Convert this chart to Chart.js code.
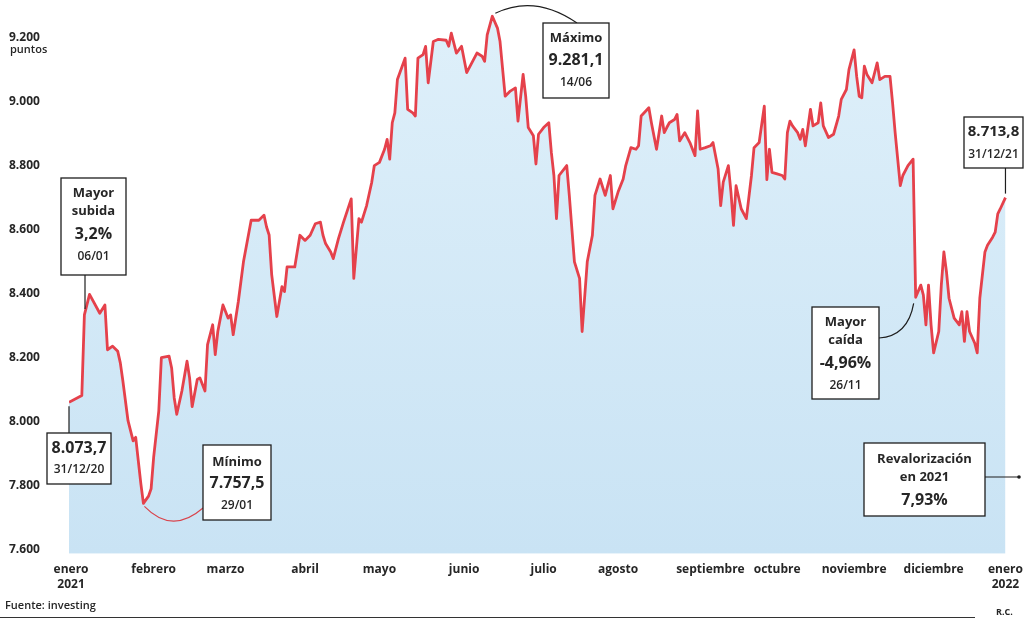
<!DOCTYPE html>
<html lang="es">
<head>
<meta charset="utf-8">
<title>Ibex 35 en 2021</title>
<script src="https://cdn.jsdelivr.net/npm/chart.js@4.4.1/dist/chart.umd.min.js"></script>
<style>
html, body { margin: 0; padding: 0; background: #fff; }
#wrap { position: relative; width: 1032px; height: 619px; }
</style>
</head>
<body>
<div id="wrap"><canvas id="grafico"></canvas></div>
<script>
// días contados desde el 31/12/2020 (día 0) y cierre en puntos
const dias = [
    0, 5, 6, 8, 12, 14, 15, 17, 19, 20, 21, 23, 25, 26, 27, 28, 29, 31, 32, 33,
    35, 36, 39, 40, 41, 42, 44, 46, 47, 48, 50, 51, 53, 54, 56, 57, 58, 60, 62, 63,
    64, 66, 68, 71, 74, 76, 77, 78, 79, 81, 83, 84, 85, 88, 90, 92, 94, 96, 98, 99,
    100, 102, 103, 105, 107, 110, 111, 113, 114, 116, 118, 119, 121, 123, 124, 125, 126, 127, 128, 131,
    132, 134, 135, 136, 138, 139, 140, 142, 144, 147, 148, 149, 151, 153, 155, 159, 161, 162, 163, 165,
    167, 168, 170, 172, 174, 175, 177, 178, 179, 181, 182, 183, 185, 187, 188, 189, 190, 191, 194, 195,
    197, 199, 200, 202, 204, 205, 207, 209, 211, 212, 214, 216, 217, 219, 221, 222, 223, 226, 227, 229,
    231, 232, 233, 234, 236, 237, 238, 240, 242, 244, 245, 246, 248, 250, 251, 253, 254, 255, 257, 258,
    259, 260, 262, 264, 266, 267, 269, 271, 272, 273, 274, 276, 278, 279, 280, 281, 282, 284, 285, 286,
    287, 289, 290, 292, 293, 294, 296, 298, 300, 301, 303, 304, 306, 307, 308, 309, 310, 311, 313, 315,
    316, 318, 320, 321, 322, 323, 324, 325, 327, 329, 330, 332, 333, 334, 335, 336, 337, 339, 340, 341,
    342, 343, 345, 347, 348, 349, 350, 351, 353, 354, 355, 357, 358, 360, 361, 362, 363, 365
];
const cierres = [
    8073.7, 8095, 8347, 8411, 8352, 8378, 8238, 8249, 8233, 8197, 8140, 8016, 7953, 7964, 7891, 7819, 7757.5, 7780, 7803, 7902,
    8047, 8213, 8218, 8181, 8088, 8036, 8109, 8202, 8150, 8060, 8145, 8150, 8109, 8254, 8316, 8223, 8295, 8378, 8337, 8347,
    8285, 8389, 8513, 8643, 8643, 8659, 8622, 8597, 8473, 8342, 8435, 8420, 8497, 8497, 8596, 8580, 8596, 8632, 8637, 8596,
    8570, 8544, 8523, 8585, 8637, 8710, 8461, 8648, 8637, 8689, 8762, 8814, 8824, 8865, 8896, 8834, 8948, 8979, 9083, 9150,
    8990, 8979, 8969, 9150, 9161, 9187, 9073, 9202, 9209, 9206, 9187, 9228, 9166, 9187, 9105, 9166, 9156, 9140, 9223, 9281.1,
    9244, 9202, 9031, 9047, 9057, 8953, 9099, 9031, 8933, 8907, 8819, 8912, 8933, 8948, 8855, 8783, 8648, 8783, 8814, 8721,
    8513, 8461, 8295, 8513, 8596, 8721, 8772, 8721, 8783, 8679, 8731, 8772, 8814, 8870, 8865, 8876, 8969, 8995, 8948, 8865,
    8969, 8917, 8933, 8948, 8958, 8974, 8891, 8917, 8886, 8845, 8985, 8865, 8870, 8876, 8886, 8803, 8689, 8762, 8814, 8731,
    8627, 8751, 8679, 8648, 8783, 8870, 8886, 9000, 8770, 8865, 8793, 8788, 8783, 8772, 8917, 8953, 8938, 8917, 8896, 8927,
    8876, 8990, 8938, 8948, 9010, 8938, 8902, 8912, 8969, 9021, 9052, 9114, 9176, 9093, 9031, 9026, 9125, 9099, 9073, 9135,
    9083, 9093, 9093, 9010, 8917, 8834, 8751, 8783, 8814, 8834, 8402, 8440, 8409, 8316, 8440, 8316, 8228, 8295, 8440, 8544,
    8482, 8399, 8337, 8316, 8357, 8264, 8357, 8295, 8259, 8228, 8399, 8544, 8565, 8590, 8606, 8663, 8679, 8713.8
];
const ticksY = [7600, 7800, 8000, 8200, 8400, 8600, 8800, 9000, 9200];
const posMeses = [0.8, 33, 61, 92, 121, 154, 185, 214, 250, 276, 306, 337, 365];
const meses = [['enero', '2021'], 'febrero', 'marzo', 'abril', 'mayo', 'junio', 'julio',
    'agosto', 'septiembre', 'octubre', 'noviembre', 'diciembre', ['enero', '2022']];

const FUENTE = "'Open Sans', 'Noto Sans', sans-serif";
const TINTA = '#262626';

function miles(v) {
    return String(v).replace(/\B(?=(\d{3})+(?!\d))/g, '.');
}

function caja(ctx, x, y, w, h, lineas) {
    ctx.save();
    ctx.fillStyle = '#fff';
    ctx.fillRect(x, y, w, h);
    ctx.strokeStyle = '#1e1e1e';
    ctx.lineWidth = 1.3;
    ctx.strokeRect(x, y, w, h);
    ctx.fillStyle = TINTA;
    ctx.textAlign = 'center';
    ctx.textBaseline = 'middle';
    lineas.forEach(l => {
        ctx.font = `${l[3] || 700} ${l[2]}px ${FUENTE}`;
        ctx.fillText(l[0], x + w / 2, l[1]);
    });
    ctx.restore();
}

// Cajas, conectores y textos sueltos
const anotaciones = {
    id: 'anotaciones',
    afterDraw(chart) {
        const ctx = chart.ctx;
        const sx = chart.scales.x, sy = chart.scales.y;
        const px = d => sx.getPixelForValue(d);
        const py = v => sy.getPixelForValue(v);

        ctx.save();
        ctx.font = `600 11px ${FUENTE}`;
        ctx.fillStyle = TINTA;
        ctx.textBaseline = 'middle';
        ctx.fillText('puntos', 10, 50);

        ctx.strokeStyle = '#1e1e1e';
        ctx.lineWidth = 1.2;
        // 31/12/20
        ctx.beginPath();
        ctx.moveTo(px(0), py(8073.7) + 4);
        ctx.lineTo(px(0), 433);
        ctx.stroke();
        // 06/01
        ctx.beginPath();
        ctx.moveTo(85, 275);
        ctx.lineTo(85, py(8347) - 6);
        ctx.stroke();
        // 31/12/21
        ctx.beginPath();
        ctx.moveTo(px(365), 168);
        ctx.lineTo(px(365), py(8713.8) - 4);
        ctx.stroke();
        // máximo
        ctx.beginPath();
        ctx.moveTo(px(165) + 3, py(9281.1) - 3);
        ctx.quadraticCurveTo(535, -6, 577, 23);
        ctx.stroke();
        // mayor caída
        ctx.beginPath();
        ctx.moveTo(879, 338);
        ctx.quadraticCurveTo(908, 336, px(330) - 2, py(8402) + 6);
        ctx.stroke();
        // revalorización
        ctx.beginPath();
        ctx.moveTo(985, 477);
        ctx.lineTo(1019, 477);
        ctx.stroke();
        ctx.beginPath();
        ctx.arc(1019, 477, 1.8, 0, Math.PI * 2);
        ctx.fillStyle = '#1e1e1e';
        ctx.fill();
        // mínimo
        ctx.strokeStyle = '#d9434b';
        ctx.lineWidth = 1.1;
        ctx.beginPath();
        ctx.moveTo(px(29) + 1, py(7757.5) + 3);
        ctx.quadraticCurveTo(172, 535, 203, 508);
        ctx.stroke();
        ctx.restore();

        caja(ctx, 61, 178, 65, 97, [['Mayor', 193, 13], ['subida', 211, 13], ['3,2%', 234, 16], ['06/01', 257, 12, 600]]);
        caja(ctx, 47, 433, 64, 51, [['8.073,7', 448, 16], ['31/12/20', 470, 12, 600]]);
        caja(ctx, 203, 445, 68, 75, [['Mínimo', 462, 13], ['7.757,5', 483, 16], ['29/01', 506, 12, 600]]);
        caja(ctx, 543, 23, 66, 75, [['Máximo', 38, 13], ['9.281,1', 60, 16], ['14/06', 83, 12, 600]]);
        caja(ctx, 964, 117, 59, 51, [['8.713,8', 132, 15], ['31/12/21', 155, 12, 600]]);
        caja(ctx, 812, 307, 67, 92, [['Mayor', 322, 13], ['caída', 340, 13], ['-4,96%', 363, 16], ['26/11', 386, 12, 600]]);
        caja(ctx, 864, 443, 121, 73, [['Revalorización', 459, 13], ['en 2021', 477, 13], ['7,93%', 500, 16]]);

        ctx.save();
        ctx.fillStyle = TINTA;
        ctx.textBaseline = 'middle';
        ctx.font = `600 11px ${FUENTE}`;
        ctx.fillText('Fuente: investing', 5, 606);
        ctx.font = `700 9px ${FUENTE}`;
        ctx.fillText('R.C.', 996, 612);
        ctx.strokeStyle = '#333';
        ctx.lineWidth = 1.2;
        ctx.beginPath();
        ctx.moveTo(0, 617.5);
        ctx.lineTo(975, 617.5);
        ctx.stroke();
        ctx.restore();
    }
};

const ctx = document.getElementById('grafico').getContext('2d');
const grad = ctx.createLinearGradient(0, 0, 0, 554);
grad.addColorStop(0, '#dff0fa');
grad.addColorStop(1, '#c9e3f4');

new Chart(ctx, {
    type: 'line',
    data: {
        datasets: [{
            label: 'Ibex 35',
            data: dias.map((d, i) => ({ x: d, y: cierres[i] })),
            borderColor: '#e5414b',
            backgroundColor: grad,
            borderWidth: 2.8,
            fill: 'start',
            tension: 0,
            pointRadius: 0,
            borderJoinStyle: 'round'
        }]
    },
    options: {
        responsive: true,
        maintainAspectRatio: false,
        animation: false,
        layout: { padding: { left: 9, right: 22.4, top: 7, bottom: 0 } },
        plugins: {
            legend: { display: false },
            tooltip: { enabled: false }
        },
        scales: {
            x: {
                type: 'linear',
                min: 0,
                max: 366,
                grid: { display: false, drawTicks: false },
                border: { display: false },
                afterBuildTicks: s => { s.ticks = posMeses.map(v => ({ value: v })); },
                afterFit: s => { s.height = 65.3; },
                ticks: {
                    autoSkip: false,
                    maxRotation: 0,
                    padding: 9,
                    color: TINTA,
                    font: { family: FUENTE, size: 12, weight: '700' },
                    callback: (v, i) => meses[i]
                }
            },
            y: {
                min: 7600,
                max: 9300,
                grid: { display: false, drawTicks: false },
                border: { display: false },
                afterBuildTicks: s => { s.ticks = ticksY.map(v => ({ value: v })); },
                afterFit: s => { s.width = 60; },
                ticks: {
                    crossAlign: 'far',
                    labelOffset: -4.5,
                    color: TINTA,
                    font: { family: FUENTE, size: 12, weight: '700' },
                    callback: v => miles(v)
                }
            }
        }
    },
    plugins: [anotaciones]
});
</script>
</body>
</html>
